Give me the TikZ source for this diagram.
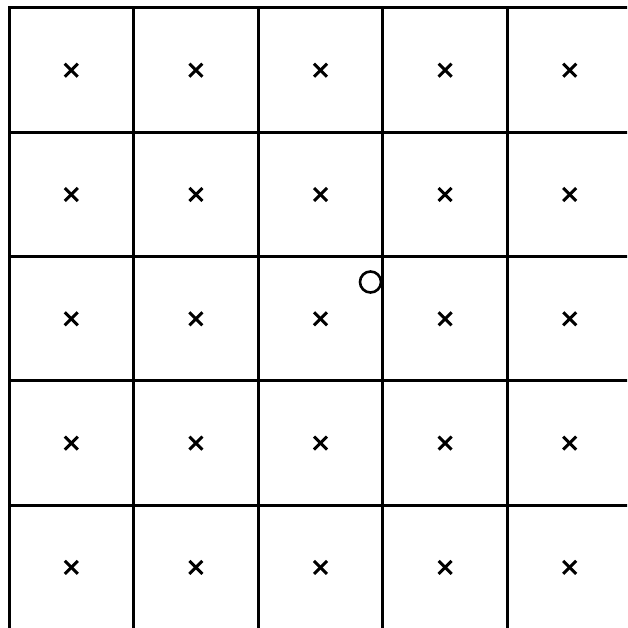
\documentclass[tikz,border=0pt]{standalone}
\begin{document}
\begin{tikzpicture}[x=1pt,y=-1pt,
  gridline/.style={line width=3pt, black, line cap=rect},
  crossmark/.style={line width=3pt, black},
  ring/.style={line width=2.6pt, black}]
\useasboundingbox (0,0) rectangle (627,628);
\clip (0,0) rectangle (627,628);
\fill[white] (0,0) rectangle (627,628);
% grid
\foreach \i in {0,...,5} {
  \draw[gridline] ({9+124.6*\i},8) -- ({9+124.6*\i},640);
  \draw[gridline] (9,{8+124.3*\i}) -- (640,{8+124.3*\i});
}
% crosses
\foreach \i in {0,...,4} {
  \foreach \j in {0,...,4} {
    \coordinate (c\i\j) at ({71.3+124.6*\i},{70.2+124.3*\j});
    \draw[crossmark] ([shift={(-6.5,-6.5)}]c\i\j) -- ([shift={(6.5,6.5)}]c\i\j);
    \draw[crossmark] ([shift={(-6.5,6.5)}]c\i\j) -- ([shift={(6.5,-6.5)}]c\i\j);
  }
}
% circle
\node[circle, draw, ring, minimum size=21pt, inner sep=0pt] (o) at (370.5,282) {};
\end{tikzpicture}
\end{document}
